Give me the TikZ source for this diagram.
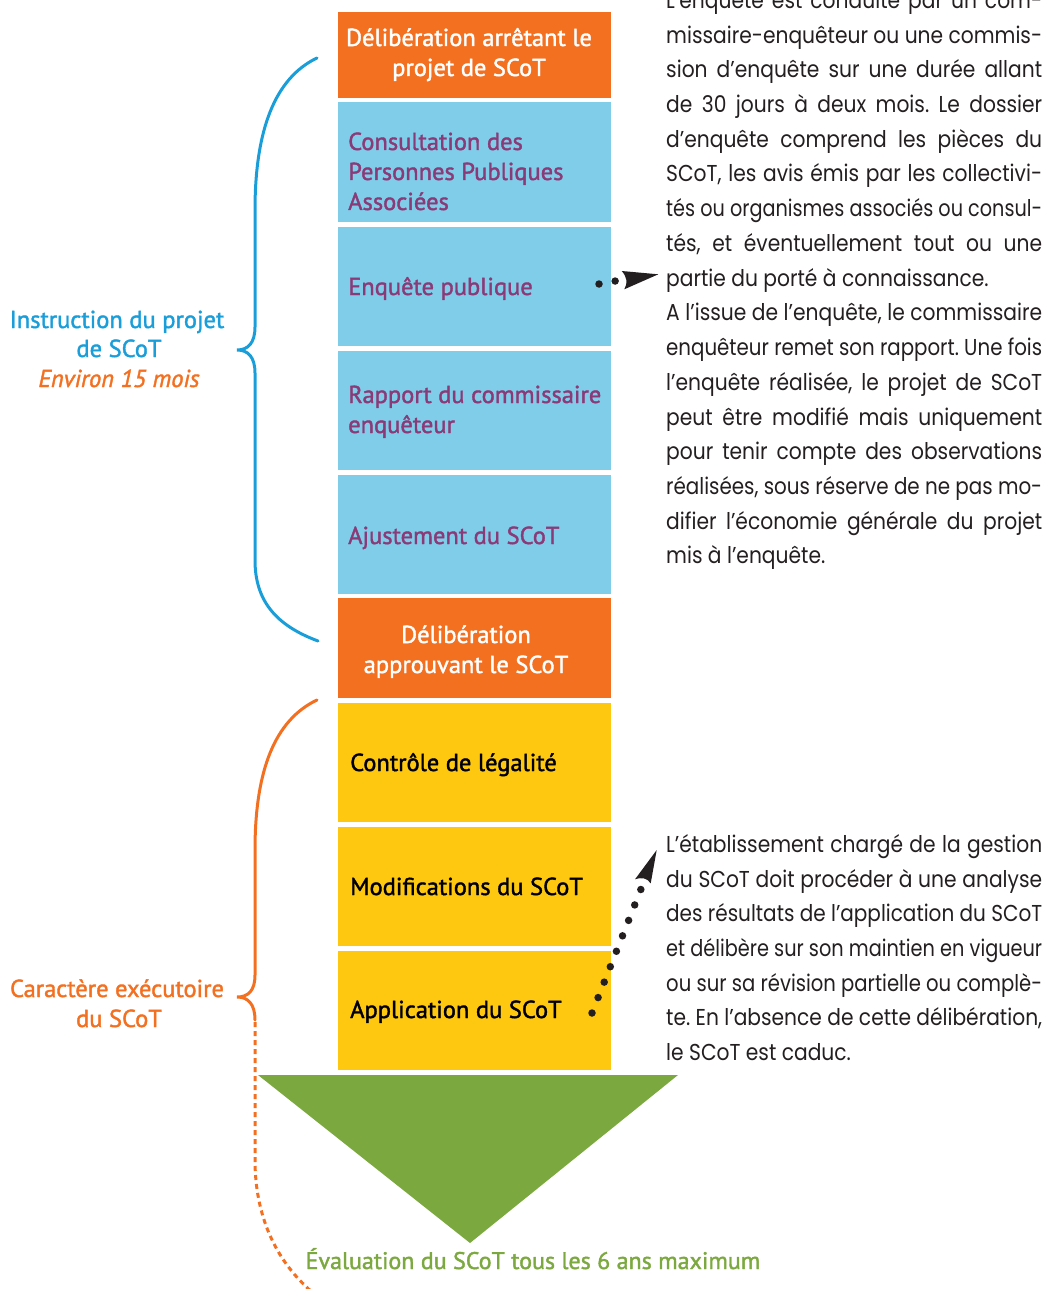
\documentclass[tikz,border=0pt]{standalone}
\usepackage{fontspec}
\setmainfont{PT Sans}
\newfontfamily\semib[FakeBold=1.6]{PT Sans}
\newfontfamily\gothic[FakeStretch=0.88]{Poppins}
\usetikzlibrary{arrows.meta}
\definecolor{cOrange}{HTML}{F37021}
\definecolor{cLight}{HTML}{80CDEA}
\definecolor{cPurple}{HTML}{8B3A78}
\definecolor{cBlue}{HTML}{1A9ED9}
\definecolor{cYellow}{HTML}{FDC80F}
\definecolor{cGreen}{HTML}{7BA83F}
\definecolor{cText}{HTML}{231F20}
\newsavebox\jlbox
\newcommand{\jl}[1]{\sbox\jlbox{#1}%
  \ifdim\wd\jlbox>376pt\relax
    \pgfmathsetmacro\jlr{376/\the\wd\jlbox}\scalebox{\jlr}[1]{\usebox\jlbox}%
  \else\makebox[376pt][s]{#1}\fi}
\frenchspacing
\begin{document}
\begin{tikzpicture}[x=1pt,y=-1pt,
  stepbox/.style={anchor=north west, minimum width=273pt, inner sep=0pt, draw=none},
  boxtext/.style={anchor=base west, inner sep=0pt, font=\semib\fontsize{24.5}{30}\selectfont},
  ctext/.style={anchor=base, inner sep=0pt, font=\semib\fontsize{24.5}{30}\selectfont},
  para/.style={anchor=base west, inner sep=0pt, text=cText, font=\gothic\frenchspacing\fontsize{23}{34}\selectfont},
  dotline/.style={line width=7.5pt, line cap=round, dash pattern=on 0pt off 16.4pt, cText},
  brace/.style={line width=3pt, line cap=round}
]
\useasboundingbox (0,0) rectangle (1048,1289);

% boxes
\node[stepbox, fill=cOrange, minimum height=86pt] (b1) at (338,12) {};
\node[stepbox, fill=cLight, minimum height=120pt] (b2) at (338,102) {};
\node[stepbox, fill=cLight, minimum height=119pt] (b3) at (338,227) {};
\node[stepbox, fill=cLight, minimum height=119pt] (b4) at (338,351) {};
\node[stepbox, fill=cLight, minimum height=119pt] (b5) at (338,475) {};
\node[stepbox, fill=cOrange, minimum height=100pt] (b6) at (338,598) {};
\node[stepbox, fill=cYellow, minimum height=119pt] (b7) at (338,703) {};
\node[stepbox, fill=cYellow, minimum height=119pt] (b8) at (338,827) {};
\node[stepbox, fill=cYellow, minimum height=119pt] (b9) at (338,951) {};

% triangle
\fill[cGreen] (258,1075) -- (678,1075) -- (470,1243) -- cycle;

% box texts
\node[ctext, text=white] (t1a) at (469,46) {Délibération arrêtant le};
\node[ctext, text=white] (t1b) at (469,76) {projet de SCoT};
\node[boxtext, text=cPurple] (t2a) at (348,150) {Consultation des};
\node[boxtext, text=cPurple] (t2b) at (348,180) {Personnes Publiques};
\node[boxtext, text=cPurple] (t2c) at (348,210) {Associées};
\node[boxtext, text=cPurple] (t3) at (348,295) {Enquête publique};
\node[boxtext, text=cPurple] (t4a) at (348,403) {Rapport du commissaire};
\node[boxtext, text=cPurple] (t4b) at (348,433) {enquêteur};
\node[boxtext, text=cPurple] (t5) at (348,544) {Ajustement du SCoT};
\node[ctext, text=white] (t6a) at (466,643) {Délibération};
\node[ctext, text=white] (t6b) at (466,673) {approuvant le SCoT};
\node[boxtext, text=black] (t7) at (350,771) {Contrôle de légalité};
\node[boxtext, text=black] (t8) at (350,895) {Modifications du SCoT};
\node[boxtext, text=black] (t9) at (350,1018) {Application du SCoT};

% left labels
\node[ctext, text=cBlue] (l1a) at (117,328) {Instruction du projet};
\node[ctext, text=cBlue] (l1b) at (119,357) {de SCoT};
\node[ctext, text=cOrange, font=\semib\itshape\fontsize{24.5}{30}\selectfont] (l1c) at (119,387) {Environ 15 mois};
\node[ctext, text=cOrange] (l2a) at (117,997) {Caractère exécutoire};
\node[ctext, text=cOrange] (l2b) at (119,1027) {du SCoT};

% bottom label
\node[ctext, text=cGreen, font=\semib\fontsize{24}{30}\selectfont] (ev) at (533,1269) {Évaluation du SCoT tous les 6 ans maximum};

% braces
\draw[brace, cBlue] (317,58) .. controls (275,78) and (255,130) .. (255,210) -- (255,327)
  .. controls (255,343) and (248,350) .. (237,350)
  .. controls (248,350) and (255,357) .. (255,373) -- (255,560)
  .. controls (255,600) and (275,625) .. (318,641);
\draw[brace, cOrange] (317,700) .. controls (275,720) and (255,770) .. (255,850) -- (255,975)
  .. controls (255,991) and (248,997) .. (237,997)
  .. controls (248,997) and (255,1004) .. (255,1020);
\draw[line width=3pt, cOrange, dash pattern=on 5pt off 4pt] (255,1022) -- (255,1160)
  .. controls (255,1215) and (275,1260) .. (312,1292);

% paragraph 1
\foreach \t [count=\i] in {%
 {L’enquête est conduite par un com-},
 {missaire-enquêteur ou une commis-},
 {sion d’enquête sur une durée allant},
 {de 30 jours à deux mois. Le dossier},
 {d’enquête comprend les pièces du},
 {SCoT, les avis émis par les collectivi-},
 {tés ou organismes associés ou consul-},
 {tés, et éventuellement tout ou une}}
 \node[para] (pa\i) at (666,{112.5+(\i-4)*34.73}) {\jl{\t}};
\node[para] (pa9) at (666,{112.5+5*34.73}) {partie du porté à connaissance.};
\foreach \t [count=\i] in {%
 {A l’issue de l’enquête, le commissaire},
 {enquêteur remet son rapport. Une fois},
 {l’enquête réalisée, le projet de SCoT},
 {peut être modifié mais uniquement},
 {pour tenir compte des observations},
 {réalisées, sous réserve de ne pas mo-},
 {difier l’économie générale du projet}}
 \node[para] (pb\i) at (666,{112.5+(\i+5)*34.73}) {\jl{\t}};
\node[para] (pb8) at (666,{112.5+13*34.73}) {mis à l’enquête.};

% paragraph 2
\foreach \t [count=\i] in {%
 {L’établissement chargé de la gestion},
 {du SCoT doit procéder à une analyse},
 {des résultats de l’application du SCoT},
 {et délibère sur son maintien en vigueur},
 {ou sur sa révision partielle ou complè-},
 {te. En l’absence de cette délibération,}}
 \node[para] (pc\i) at (666,{852.5+(\i-1)*34.67}) {\jl{\t}};
\node[para] (pc7) at (666,{852.5+6*34.67}) {le SCoT est caduc.};

% arrow 1
\coordinate (a1s) at (599,284);
\coordinate (a1e) at (617,280.7);
\draw[dotline] (a1s) -- (a1e);
\coordinate (h1t) at (621.7,271);
\coordinate (h1p) at (658.3,274.3);
\coordinate (h1b) at (624.3,289.3);
\fill[cText] (h1t) -- (h1p) -- (h1b) .. controls (628,283) and (627,277) .. cycle;

% arrow 2
\coordinate (a2s) at (592,1013);
\coordinate (a2e) at (642,886.5);
\draw[dotline, dash pattern=on 0pt off 16.6pt] (a2s) -- (a2e);
\coordinate (h2l) at (635,879.3);
\coordinate (h2p) at (656.7,850);
\coordinate (h2r) at (650.7,883.3);
\fill[cText] (h2l) -- (h2p) -- (h2r) .. controls (647,878) and (642,877) .. cycle;
\end{tikzpicture}
\end{document}
